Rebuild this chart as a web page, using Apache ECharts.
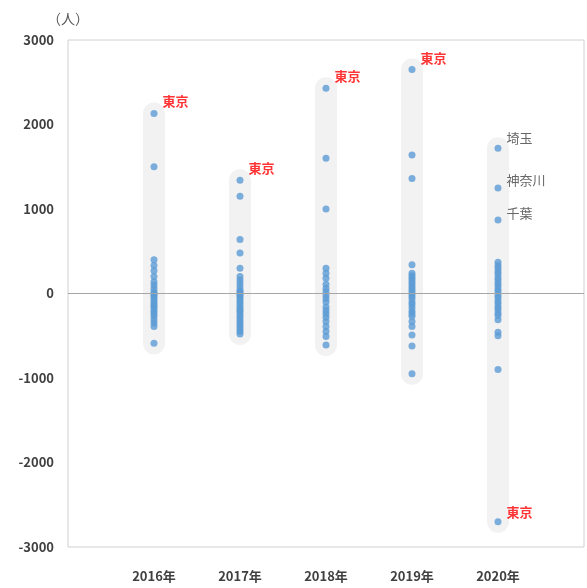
<!DOCTYPE html>
<html>
<head>
<meta charset="utf-8">
<script src="https://cdn.jsdelivr.net/npm/echarts@6/dist/echarts.min.js"></script>
<style>
  html, body { margin: 0; padding: 0; background: #fff; }
  #chart { width: 587px; height: 588px; }
</style>
</head>
<body>
<div id="chart"></div>
<script>
// Year categories shown along the bottom
const years = ['2016年', '2017年', '2018年', '2019年', '2020年'];

// Net migration per prefecture (persons), one list per year
const y2016 = [2130, 1500, 400, 330, 270, 200, 140, 100, 60, 20, 0, -20, -40, -70, -100, -130, -150, -180, -210, -240, -270, -310, -350, -390, -590];
const y2017 = [1340, 1150, 640, 480, 300, 200, 160, 120, 80, 40, 20, 0, -20, -40, -70, -100, -130, -160, -190, -210, -240, -270, -300, -330, -360, -390, -420, -450, -480];
const y2018 = [2430, 1600, 1000, 300, 240, 180, 110, 60, 20, -20, -60, -100, -160, -200, -240, -280, -330, -390, -450, -510, -610];
const y2019 = [2650, 1640, 1360, 340, 240, 210, 180, 150, 120, 90, 60, 30, 0, -30, -60, -100, -130, -170, -210, -240, -270, -330, -390, -490, -620, -950];
const y2020 = [1720, 1250, 870, -2700, 370, 330, 300, 260, 230, 190, 160, 120, 90, 50, 20, -20, -50, -90, -120, -160, -190, -230, -260, -310, -460, -500, -900];

// Named points: [year index, point index, prefecture name]
const namedPoints = [
  [0, 0, '東京'], [1, 0, '東京'], [2, 0, '東京'], [3, 0, '東京'],
  [4, 0, '埼玉'], [4, 1, '神奈川'], [4, 2, '千葉'], [4, 3, '東京']
];

// Y axis ticks
const yMin = -3000, yMax = 3000, yStep = 1000;

const yearValues = [y2016, y2017, y2018, y2019, y2020];
const font = '"Noto Sans CJK JP", "Noto Sans", sans-serif';

// Range bands (min to max of each year), drawn as thick round-capped segments
const bandData = [];
yearValues.forEach((vals, i) => {
  bandData.push([i + 1, Math.max(...vals)]);
  bandData.push([i + 1, Math.min(...vals)]);
  bandData.push('-');
});

// Scatter points with labels for the named prefectures
const pointData = [];
yearValues.forEach((vals, i) => {
  vals.forEach((v, j) => {
    const item = { value: [i + 1, v] };
    const named = namedPoints.find(n => n[0] === i && n[1] === j);
    if (named) {
      const isTokyo = named[2] === '東京';
      let dy = -10;
      if (named[2] === '神奈川') dy = -8;
      if (named[2] === '千葉') dy = -7;
      if (isTokyo && i < 4) dy = -12;
      item.label = {
        show: true,
        formatter: named[2],
        position: 'right',
        distance: 5,
        offset: [0, dy],
        color: isTokyo ? '#ff0000' : '#404040',
        fontSize: 13,
        fontWeight: isTokyo ? 'bold' : 'normal',
        fontFamily: font
      };
    }
    pointData.push(item);
  });
});

const chart = echarts.init(document.getElementById('chart'), null, { renderer: 'canvas' });
chart.setOption({
  animation: false,
  backgroundColor: '#ffffff',
  grid: {
    left: 68, right: 2, top: 40, bottom: 41,
    show: true, borderColor: '#d0d0d0', borderWidth: 1
  },
  xAxis: {
    type: 'value',
    min: 0, max: years.length + 1, interval: 1,
    axisLine: { show: false },
    axisTick: { show: false },
    splitLine: { show: false },
    axisLabel: {
      margin: 23,
      color: '#404040',
      fontSize: 13,
      fontWeight: 'bold',
      fontFamily: font,
      formatter: v => (v >= 1 && v <= years.length) ? years[v - 1] : ''
    }
  },
  yAxis: {
    type: 'value',
    min: yMin, max: yMax, interval: yStep,
    name: '（人）',
    nameLocation: 'end',
    nameGap: 14,
    nameTextStyle: { color: '#595959', fontSize: 14, fontFamily: font, align: 'center' },
    axisLine: { show: false },
    axisTick: { show: false },
    splitLine: { show: false },
    axisLabel: {
      color: '#404040', fontSize: 13, fontWeight: 'bold', fontFamily: font, margin: 14,
      formatter: v => String(v)
    }
  },
  series: [
    {
      type: 'line',
      data: bandData,
      connectNulls: false,
      symbol: 'none',
      silent: true,
      z: 1,
      lineStyle: { color: '#f2f2f2', width: 22, cap: 'round' },
      markLine: {
        silent: true,
        symbol: 'none',
        label: { show: false },
        lineStyle: { color: '#a6a6a6', width: 1, type: 'solid' },
        data: [{ yAxis: 0 }]
      }
    },
    {
      type: 'scatter',
      data: pointData,
      symbol: 'circle',
      symbolSize: 7,
      z: 3,
      itemStyle: { color: '#5b9bd5' }
    }
  ]
});
</script>
</body>
</html>
